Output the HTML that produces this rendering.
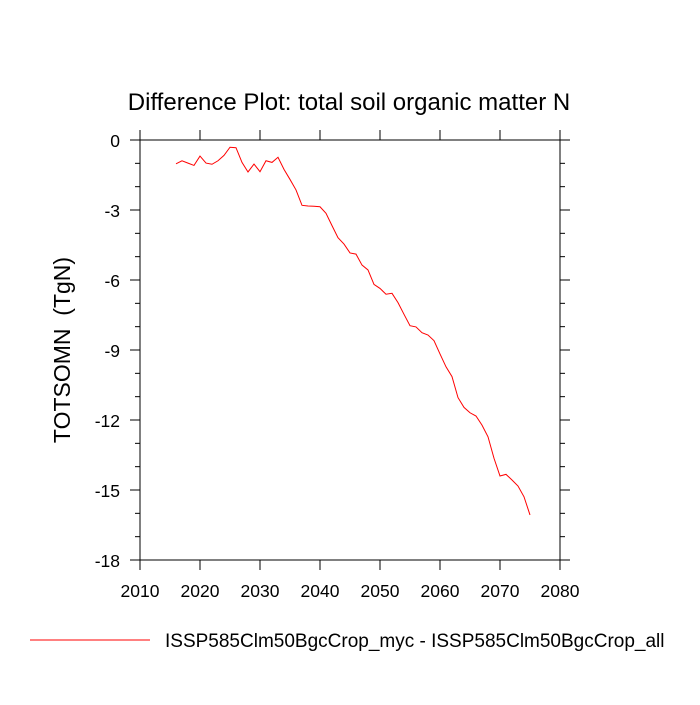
<!DOCTYPE html>
<html><head><meta charset="utf-8"><style>
body{margin:0;background:#fff;}
svg text{font-family:"Liberation Sans",sans-serif;fill:#000;}
</style></head><body>
<svg id="chart" width="700" height="700" xmlns="http://www.w3.org/2000/svg">
<text x="349" y="110" font-size="24" text-anchor="middle">Difference Plot: total soil organic matter N</text>
<text transform="translate(70,350) rotate(-90)" font-size="23" text-anchor="middle" style="white-space:pre">TOTSOMN  (TgN)</text>
<g id="axes"></g>
<polyline id="series" fill="none" stroke="#ff0000" stroke-width="1"/>
<line x1="30" y1="640" x2="150" y2="640" stroke="#ff0000" stroke-width="1"/>
<text x="165" y="647" font-size="19">ISSP585Clm50BgcCrop_myc - ISSP585Clm50BgcCrop_all</text>
</svg>
<script>
const years = [2016,2017,2018,2019,2020,2021,2022,2023,2024,2025,2026,2027,2028,2029,2030,2031,2032,2033,2034,2035,2036,2037,2038,2039,2040,2041,2042,2043,2044,2045,2046,2047,2048,2049,2050,2051,2052,2053,2054,2055,2056,2057,2058,2059,2060,2061,2062,2063,2064,2065,2066,2067,2068,2069,2070,2071,2072,2073,2074,2075];
const values = [-1.02,-0.89,-0.99,-1.09,-0.69,-0.99,-1.04,-0.89,-0.66,-0.31,-0.33,-0.96,-1.37,-1.03,-1.36,-0.89,-0.96,-0.74,-1.26,-1.69,-2.14,-2.80,-2.83,-2.84,-2.86,-3.14,-3.67,-4.19,-4.46,-4.84,-4.89,-5.36,-5.57,-6.19,-6.36,-6.61,-6.57,-6.97,-7.47,-7.96,-8.01,-8.26,-8.36,-8.60,-9.17,-9.72,-10.14,-11.04,-11.46,-11.69,-11.83,-12.22,-12.72,-13.64,-14.40,-14.33,-14.57,-14.83,-15.29,-16.07];
const xTicks = [2010,2020,2030,2040,2050,2060,2070,2080];
const yTicks = [0,-3,-6,-9,-12,-15,-18];
const L=140,R=560,T=140,B=560,X0=2010,X1=2080,Y0=-18,Y1=0;
const sx=v=>L+(v-X0)/(X1-X0)*(R-L);
const sy=v=>B-(v-Y0)/(Y1-Y0)*(B-T);
const NS="http://www.w3.org/2000/svg";
const g=document.getElementById('axes');
function ln(x1,y1,x2,y2,name){const l=document.createElementNS(NS,'line');l.setAttribute('x1',x1);l.setAttribute('y1',y1);l.setAttribute('x2',x2);l.setAttribute('y2',y2);l.setAttribute('stroke','#000');l.setAttribute('stroke-width','1');


g.appendChild(l);}
function tx(x,y,s,anchor,name){const t=document.createElementNS(NS,'text');t.setAttribute('x',x);t.setAttribute('y',y);t.setAttribute('font-size','17.5');t.setAttribute('text-anchor',anchor);t.textContent=s;


g.appendChild(t);}
const box=document.createElementNS(NS,'rect');box.setAttribute('x',L);box.setAttribute('y',T);box.setAttribute('width',R-L);box.setAttribute('height',B-T);box.setAttribute('fill','none');box.setAttribute('stroke','#000');


g.appendChild(box);
xTicks.forEach(v=>{const x=sx(v);ln(x,B,x,B+10,'x-tick');ln(x,T,x,T-10,'x-tick-top');tx(x,B+37,String(v),'middle','x-tick-label');});
yTicks.forEach(v=>{const y=sy(v);ln(L,y,L-10,y,'y-tick');ln(R,y,R+10,y,'y-tick-right');tx(L-20,y+7,String(v),'end','y-tick-label');});
for(let v=-1;v>-18;v--){if(v%3===0)continue;const y=sy(v);ln(L,y,L-5,y,'y-minor-tick');ln(R,y,R+5,y,'y-minor-tick-right');}
document.getElementById('series').setAttribute('points',years.map((yr,i)=>sx(yr)+','+sy(values[i])).join(' '));
</script>
</body></html>
